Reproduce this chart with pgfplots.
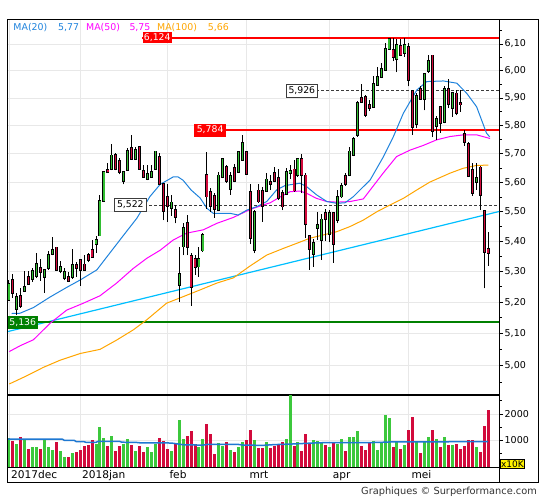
\documentclass[border=0pt]{standalone}
\usepackage{fontspec}
\setmainfont{DejaVu Sans}
\usepackage{pgfplots}
\usepackage{pgfplotstable}
\pgfplotsset{compat=1.18}
\definecolor{cgreen}{RGB}{50,190,50}
\definecolor{vgreen}{RGB}{60,200,60}
\definecolor{cred}{RGB}{210,10,60}
\definecolor{ma20}{RGB}{30,130,220}
\definecolor{ma50}{RGB}{255,0,255}
\definecolor{ma100}{RGB}{255,165,0}
\definecolor{trend}{RGB}{0,191,255}
\definecolor{gridc}{RGB}{232,232,232}
\definecolor{lvlgreen}{RGB}{0,128,0}
\definecolor{dashc}{RGB}{60,60,60}
\definecolor{vma}{RGB}{30,120,210}
\newcommand\fs[1]{\fontsize{#1}{#1}\selectfont}
\pgfplotsset{candle/.style={only marks, mark=none, mark options={draw=none, fill=none}, mark size=0pt,
  error bars/.cd, y dir=plus, y explicit, error mark=none}}

\pgfplotstableread{
i O H L C V
0 5.210 5.272 5.207 5.258 1094
2 5.180 5.229 5.160 5.216 868
4 5.238 5.303 5.234 5.249 1057
6 5.278 5.310 5.267 5.299 755
7 5.288 5.361 5.278 5.324 755
9 5.283 5.302 5.231 5.302 1019
10 5.312 5.368 5.305 5.353 755
11 5.360 5.413 5.354 5.368 642
13 5.303 5.335 5.294 5.314 604
14 5.280 5.310 5.272 5.295 377
16 5.283 5.373 5.277 5.320 528
22 5.392 5.418 5.362 5.403 868
23 5.421 5.557 5.418 5.535 1509
24 5.539 5.640 5.535 5.634 1094
26 5.648 5.735 5.643 5.692 1170
29 5.606 5.637 5.593 5.634 868
30 5.646 5.719 5.643 5.709 1057
32 5.683 5.725 5.678 5.713 604
35 5.612 5.661 5.608 5.628 755
36 5.622 5.662 5.619 5.633 566
37 5.649 5.711 5.647 5.706 868
41 5.514 5.556 5.485 5.529 604
43 5.258 5.382 5.202 5.289 1772
44 5.384 5.460 5.354 5.443 1057
48 5.318 5.382 5.282 5.340 755
49 5.371 5.427 5.365 5.418 1057
53 5.508 5.637 5.502 5.622 905
54 5.622 5.686 5.615 5.678 792
56 5.580 5.637 5.557 5.620 642
58 5.637 5.707 5.633 5.704 755
59 5.681 5.767 5.678 5.735 943
62 5.374 5.505 5.360 5.497 1018
65 5.571 5.632 5.567 5.608 943
70 5.563 5.649 5.557 5.634 1056
71 5.636 5.661 5.611 5.638 2800
73 5.626 5.684 5.619 5.681 943
77 5.360 5.406 5.315 5.393 1018
78 5.447 5.498 5.404 5.451 980
79 5.405 5.492 5.338 5.471 943
81 5.427 5.505 5.397 5.492 767
83 5.474 5.574 5.461 5.548 867
84 5.553 5.597 5.546 5.585 1056
86 5.626 5.725 5.622 5.706 1131
87 5.699 5.760 5.692 5.749 1131
88 5.770 5.890 5.761 5.881 1357
92 5.869 5.981 5.867 5.948 980
93 5.948 6.014 5.944 5.975 641
94 5.979 6.029 5.973 6.005 905
95 6.003 6.104 5.999 6.080 1973
96 6.084 6.124 6.081 6.118 1847
98 6.044 6.120 5.995 6.093 968
100 6.067 6.124 6.053 6.093 829
103 5.809 5.918 5.791 5.905 968
105 5.897 5.992 5.855 5.986 968
106 6.002 6.059 5.993 6.033 1131
108 5.800 5.835 5.749 5.820 1056
110 5.814 5.942 5.808 5.930 1131
112 5.865 5.922 5.832 5.915 829
118 5.602 5.667 5.574 5.614 754
}\gtab

\pgfplotstableread{
i O H L C V
1 5.269 5.291 5.215 5.232 981
3 5.219 5.247 5.183 5.190 1132
5 5.279 5.303 5.259 5.260 679
8 5.310 5.341 5.270 5.299 679
12 5.377 5.379 5.305 5.307 943
15 5.281 5.299 5.269 5.272 377
17 5.320 5.332 5.283 5.312 566
18 5.337 5.340 5.254 5.306 642
19 5.321 5.354 5.302 5.308 792
20 5.351 5.362 5.331 5.339 830
21 5.370 5.404 5.346 5.350 1019
25 5.641 5.669 5.636 5.638 792
27 5.695 5.703 5.643 5.648 604
28 5.671 5.684 5.628 5.639 792
31 5.718 5.767 5.681 5.684 830
33 5.723 5.726 5.646 5.649 792
34 5.639 5.661 5.616 5.620 566
38 5.685 5.702 5.591 5.595 1094
39 5.591 5.599 5.471 5.505 981
40 5.547 5.593 5.466 5.520 679
42 5.502 5.522 5.460 5.483 868
45 5.460 5.488 5.354 5.382 1170
46 5.349 5.360 5.189 5.251 1357
47 5.338 5.354 5.289 5.316 868
50 5.623 5.707 5.509 5.553 1621
51 5.566 5.580 5.498 5.520 1244
52 5.551 5.563 5.479 5.511 490
55 5.651 5.661 5.598 5.606 943
57 5.649 5.664 5.601 5.608 566
60 5.705 5.710 5.628 5.632 1019
61 5.565 5.593 5.390 5.412 1395
63 5.570 5.593 5.529 5.536 716
64 5.568 5.585 5.466 5.522 716
66 5.598 5.626 5.574 5.596 716
67 5.632 5.655 5.601 5.608 792
68 5.612 5.647 5.539 5.548 867
69 5.560 5.574 5.505 5.519 943
72 5.643 5.678 5.567 5.574 792
74 5.680 5.699 5.563 5.629 603
75 5.622 5.633 5.410 5.461 1244
76 5.414 5.415 5.305 5.377 867
80 5.492 5.508 5.401 5.475 829
82 5.492 5.498 5.328 5.393 943
85 5.620 5.632 5.588 5.597 603
89 5.899 5.951 5.882 5.886 792
90 5.902 5.911 5.830 5.841 641
91 5.871 5.893 5.853 5.864 943
97 6.074 6.122 6.036 6.053 754
99 6.091 6.119 6.055 6.062 679
101 6.088 6.103 5.942 5.967 1395
102 5.922 5.929 5.767 5.796 1885
104 5.930 5.945 5.893 5.897 528
107 6.055 6.058 5.759 5.784 1395
109 5.866 5.868 5.775 5.812 754
111 5.930 5.968 5.863 5.881 829
113 5.914 5.930 5.837 5.846 867
114 5.880 5.928 5.849 5.878 679
115 5.768 5.783 5.728 5.742 792
116 5.732 5.742 5.622 5.625 1018
117 5.641 5.667 5.553 5.565 1018
119 5.650 5.657 5.505 5.557 578
120 5.501 5.503 5.245 5.367 1546
121 5.371 5.430 5.319 5.363 2149
}\rtab

\begin{document}
\begin{tikzpicture}
\useasboundingbox (0,0) rectangle (545bp,500bp);

% ---------------- main price panel ----------------
\begin{axis}[
  at={(7bp,105.5bp)}, anchor=south west, scale only axis,
  width=492bp, height=375.2bp,
  xmin=-0.48, xmax=123.76,
  ymode=log, ymin=4.912, ymax=6.194,
  axis line style={black, line width=1bp},
  xtick={0,18,40,60,81,101}, xticklabels={}, x tick style={draw=none},
  ytick={5.0,5.1,5.2,5.3,5.4,5.5,5.6,5.7,5.8,5.9,6.0,6.1},
  yticklabels={{5,00},{5,10},{5,20},{5,30},{5,40},{5,50},{5,60},{5,70},{5,80},{5,90},{6,00},{6,10}},
  minor ytick={4.95,5.05,5.15,5.25,5.35,5.45,5.55,5.65,5.75,5.85,5.95,6.05,6.15},
  ytick pos=right, yticklabel pos=right,
  tick align=outside, major tick length=4bp, minor tick length=2.5bp,
  y tick style={black, line width=0.8bp},
  yticklabel style={font=\fs{9.5bp}, inner sep=1.5bp, text=black},
  xmajorgrids, ymajorgrids, grid style={gridc, line width=0.8bp},
]
% trend line
\addplot[trend, line width=1.2bp] coordinates {(-0.48,5.106) (123.76,5.500)};
% level lines
\addplot[red, line width=2bp] coordinates {(33.7,6.124) (123.76,6.124)};
\addplot[red, line width=1.5bp] coordinates {(46.8,5.784) (123.76,5.784)};
\addplot[dashc, line width=0.8bp, dash pattern=on 3bp off 2bp] coordinates {(70,5.926) (123.76,5.926)};
\addplot[dashc, line width=0.8bp, dash pattern=on 3bp off 2bp] coordinates {(26.6,5.522) (123.76,5.522)};
\addplot[lvlgreen, line width=2bp] coordinates {(-0.48,5.136) (123.76,5.136)};
% MA(100)
\addplot[ma100, line width=1bp] coordinates {(0.1,4.944)(4.5,4.969)(8.7,4.995)(12.9,5.017)(18,5.038)(23,5.051)(27.2,5.080)(31.4,5.112)(34.8,5.144)(39.8,5.197)(44,5.218)(48.3,5.240)(52.5,5.262)(56.7,5.279)(60.9,5.318)(65.1,5.354)(69.3,5.376)(72.7,5.393)(76,5.410)(79.4,5.421)(82.8,5.432)(86.1,5.449)(89.5,5.471)(92.9,5.499)(96.2,5.522)(99.6,5.545)(103,5.574)(106.3,5.601)(111.4,5.632)(114.7,5.649)(118.1,5.659)(121.1,5.660)};
% MA(50)
\addplot[ma50, line width=1bp] coordinates {(0.1,5.044)(2.8,5.062)(6.2,5.081)(10.4,5.133)(14.6,5.175)(18.8,5.197)(23,5.221)(27.2,5.262)(31.4,5.310)(34.8,5.343)(38.2,5.370)(41.5,5.404)(44.9,5.427)(49.1,5.438)(52.5,5.460)(56.7,5.480)(60.9,5.507)(64.2,5.522)(66,5.530)(68.5,5.550)(71,5.568)(73.5,5.570)(75.2,5.562)(77.7,5.545)(80.3,5.534)(82.8,5.532)(86.1,5.534)(89.5,5.543)(94.5,5.632)(97.9,5.690)(101.3,5.713)(104.6,5.729)(108,5.749)(111.4,5.761)(114.8,5.767)(118.1,5.767)(121.5,5.754)};
% MA(20)
\addplot[ma20, line width=1bp] coordinates {(0.7,5.164)(2.8,5.165)(6.2,5.183)(10.4,5.217)(14.6,5.248)(18,5.272)(22.2,5.305)(25.5,5.361)(28.9,5.419)(32.3,5.477)(35.6,5.551)(38.2,5.593)(41.5,5.619)(42.7,5.619)(44,5.607)(46,5.574)(48.3,5.546)(50,5.511)(51.6,5.494)(55.8,5.494)(57.9,5.488)(60.1,5.505)(62.6,5.517)(65.1,5.534)(67.6,5.574)(69.7,5.589)(73.5,5.597)(75.2,5.585)(77.7,5.557)(80.3,5.534)(82.8,5.528)(84.9,5.530)(87,5.551)(89.5,5.585)(91.2,5.608)(94.6,5.690)(97.1,5.761)(99.6,5.844)(103,5.929)(105.5,5.960)(109.7,5.962)(113.1,5.954)(115.6,5.917)(118.1,5.868)(120.6,5.773)(121.4,5.760)};
% wicks
\addplot[candle, error bar style={draw=black, line width=1bp}]
  table[x=i, y=L, y error expr=\thisrow{H}-\thisrow{L}] {\gtab};
\addplot[candle, error bar style={draw=black, line width=1bp}]
  table[x=i, y=L, y error expr=\thisrow{H}-\thisrow{L}] {\rtab};
% body outlines
\addplot[candle, error bar style={draw=black, line width=3bp, line cap=rect}]
  table[x=i, y=O, y error expr=\thisrow{C}-\thisrow{O}] {\gtab};
\addplot[candle, error bar style={draw=black, line width=3bp, line cap=rect}]
  table[x=i, y=C, y error expr=\thisrow{O}-\thisrow{C}] {\rtab};
% body fills
\addplot[candle, error bar style={draw=cgreen, line width=1.2bp, line cap=rect}]
  table[x=i, y=O, y error expr=\thisrow{C}-\thisrow{O}] {\gtab};
\addplot[candle, error bar style={draw=cred, line width=1.2bp, line cap=rect}]
  table[x=i, y=C, y error expr=\thisrow{O}-\thisrow{C}] {\rtab};
% level labels
\node[fill=red, text=white, inner sep=0, minimum width=29.4bp, minimum height=10.4bp, anchor=west, font=\fs{9.3bp}] at (axis cs:33.7,6.124) {6,124};
\node[fill=red, text=white, inner sep=0, minimum width=31.4bp, minimum height=13bp, anchor=west, font=\fs{9.3bp}] at (axis cs:46.8,5.784) {5,784};
\node[fill=white, draw=dashc, line width=0.8bp, text=black, inner sep=0, minimum width=30.7bp, minimum height=12.7bp, anchor=west, font=\fs{9.3bp}] at (axis cs:70,5.926) {5,926};
\node[fill=white, draw=dashc, line width=0.8bp, text=black, inner sep=0, minimum width=31.4bp, minimum height=13.4bp, anchor=west, font=\fs{9.3bp}] at (axis cs:26.6,5.522) {5,522};
\node[fill=lvlgreen, text=white, inner sep=0, minimum width=30.4bp, minimum height=13.3bp, anchor=west, font=\fs{9.3bp}] at (axis cs:-0.4,5.136) {5,136};
\end{axis}

% ---------------- volume panel ----------------
\begin{axis}[
  at={(7bp,33bp)}, anchor=south west, scale only axis,
  width=492bp, height=71.7bp,
  xmin=-0.48, xmax=123.76, ymin=0, ymax=2706,
  axis line style={black, line width=1bp},
  xtick={0,18,40,60,81,101}, xticklabels={}, x tick style={draw=none},
  ytick={1000,2000}, yticklabels={1000,2000},
  minor ytick={500,1500,2500},
  ytick pos=right, yticklabel pos=right,
  tick align=outside, major tick length=4bp, minor tick length=2.5bp,
  y tick style={black, line width=0.8bp},
  yticklabel style={font=\fs{9.5bp}, inner sep=1.5bp, text=black},
  xmajorgrids, ymajorgrids, grid style={gridc, line width=0.8bp},
]
\addplot[ycomb, vgreen, line width=3bp] table[x=i, y=V] {\gtab};
\addplot[ycomb, cred, line width=3bp] table[x=i, y=V] {\rtab};
\addplot[vma, line width=1.5bp] coordinates {(-0.3,1050)(13.5,1050)(14,1005)(16.5,1005)(17,960)(19,955)(19.5,930)(22,930)(22.5,965)(28,965)(28.5,935)(32,930)(33,915)(41,905)(44,840)(49,825)(50,850)(58,850)(59,830)(64,815)(67,845)(72,870)(76,900)(80,920)(93,925)(97,950)(121,955)};
\end{axis}

% frame and extras
\draw[black, line width=1bp] (7bp,17.7bp) rectangle (538bp,480.7bp);
\draw[black, line width=1bp] (499bp,33bp) -- (499bp,17.7bp);
\node[fill=yellow, draw=black, line width=0.8bp, inner sep=1bp, font=\fs{9bp}] at (512.5bp,36.2bp) {x10K};

% legend
\node[anchor=base west, inner sep=0, text=ma20, font=\fs{9.4bp}] at (13.3bp,469.5bp) {MA(20)};
\node[anchor=base west, inner sep=0, text=ma20, font=\fs{9.4bp}] at (58bp,469.5bp) {5,77};
\node[anchor=base west, inner sep=0, text=ma50, font=\fs{9.4bp}] at (86bp,469.5bp) {MA(50)};
\node[anchor=base west, inner sep=0, text=ma50, font=\fs{9.4bp}] at (129.3bp,469.5bp) {5,75};
\node[anchor=base west, inner sep=0, text=ma100, font=\fs{9.4bp}] at (157bp,469.5bp) {MA(100)};
\node[anchor=base west, inner sep=0, text=ma100, font=\fs{9.4bp}] at (207.7bp,469.5bp) {5,66};

% date labels
\node[anchor=base west, inner sep=0, font=\fs{10.6bp}] at (11bp,21.8bp) {2017dec};
\node[anchor=base west, inner sep=0, font=\fs{10.6bp}] at (82bp,21.8bp) {2018jan};
\node[anchor=base west, inner sep=0, font=\fs{10.6bp}] at (169.3bp,21.8bp) {feb};
\node[anchor=base west, inner sep=0, font=\fs{10.6bp}] at (249.3bp,21.8bp) {mrt};
\node[anchor=base west, inner sep=0, font=\fs{10.6bp}] at (332.7bp,21.8bp) {apr};
\node[anchor=base west, inner sep=0, font=\fs{10.6bp}] at (411.3bp,21.8bp) {mei};

% footer
\node[anchor=base east, inner sep=0, text=black!80, font=\fs{9.8bp}] at (537bp,5.7bp) {Graphiques © Surperformance.com};
\end{tikzpicture}
\end{document}
